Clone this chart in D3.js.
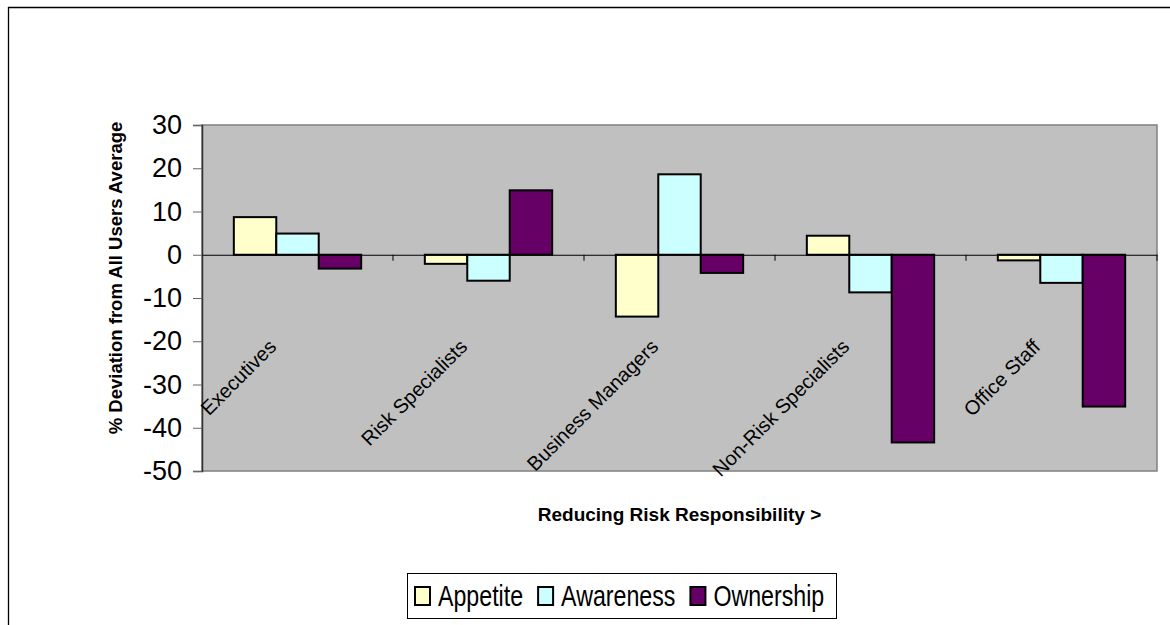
<!DOCTYPE html>
<html>
<head>
<meta charset="utf-8">
<script src="https://cdn.jsdelivr.net/npm/d3@7"></script>
<style>
  html, body { margin: 0; padding: 0; background: #fff; overflow: hidden; }
  svg { display: block; font-family: "Liberation Sans", Arial, sans-serif; }
</style>
</head>
<body>
<svg id="chart" width="1170" height="625"></svg>
<script>
// ---- data ----
const categories = ["Executives", "Risk Specialists", "Business Managers", "Non-Risk Specialists", "Office Staff"];
const seriesNames = ["Appetite", "Awareness", "Ownership"];
const appetite  = [8.7, -2.1, -14.3, 4.4, -1.3];
const awareness = [4.9, -6.0, 18.6, -8.7, -6.5];
const ownership = [-3.2, 14.9, -4.2, -43.4, -35.1];
const yTicks = [30, 20, 10, 0, -10, -20, -30, -40, -50];
const yTitle = "% Deviation from All Users Average";
const xTitle = "Reducing Risk Responsibility >";

const seriesValues = [appetite, awareness, ownership];
const colors = ["#FFFFCC", "#CCFFFF", "#660066"];

const svg = d3.select("#chart");
const plot = { left: 202, right: 1157, top: 125, bottom: 471 };

// white page background
svg.append("rect").attr("x", 0).attr("y", 0).attr("width", 1170).attr("height", 625).attr("fill", "#fff");

// outer chart-area border (top and left edges visible)
svg.append("path")
  .attr("d", "M8.5,625 V7.5 H1170")
  .attr("fill", "none").attr("stroke", "#000").attr("stroke-width", 1.3);

const x = d3.scaleBand().domain(categories).range([plot.left, plot.right]).paddingInner(0).paddingOuter(0);
const xs = d3.scaleBand().domain(seriesNames).range([0, x.bandwidth()]).paddingInner(0).paddingOuter(0.75);
const y = d3.scaleLinear().domain([-50, 30]).range([plot.bottom, plot.top]);

// plot background
svg.append("rect")
  .attr("x", plot.left).attr("y", plot.top)
  .attr("width", plot.right - plot.left).attr("height", plot.bottom - plot.top)
  .attr("fill", "#C0C0C0").attr("stroke", "#808080").attr("stroke-width", 1.5);

// y axis
const yAxis = d3.axisLeft(y).tickValues(yTicks).tickSize(9).tickPadding(11).tickFormat(d => String(d));
const gy = svg.append("g").attr("transform", `translate(${plot.left},0)`).call(yAxis);
gy.select(".domain").attr("stroke", "#333").attr("stroke-width", 1.5);
gy.selectAll(".tick line").attr("stroke", "#666").attr("stroke-width", 1);
gy.selectAll(".tick text").attr("font-size", 27).attr("fill", "#000")
  .attr("font-family", "'Liberation Sans', Arial, sans-serif");

// bars
const data = [];
categories.forEach((c, i) => seriesNames.forEach((s, j) => data.push({ c, s, j, v: seriesValues[j][i] })));
svg.append("g").selectAll("rect").data(data).enter().append("rect")
  .attr("x", d => x(d.c) + xs(d.s))
  .attr("width", xs.bandwidth())
  .attr("y", d => y(Math.max(0, d.v)))
  .attr("height", d => Math.abs(y(d.v) - y(0)))
  .attr("fill", d => colors[d.j])
  .attr("stroke", "#000").attr("stroke-width", 2);

// category axis at zero
const xAxis = d3.axisBottom(x).tickSizeInner(0).tickSizeOuter(0).tickFormat("");
const gx = svg.append("g").attr("transform", `translate(0,${y(0)})`).call(xAxis);
gx.select(".domain").attr("stroke", "#000").attr("stroke-width", 1);
const bounds = categories.map(c => x(c) + x.bandwidth());
gx.selectAll("line.bound").data(bounds).enter().append("line")
  .attr("class", "bound")
  .attr("x1", d => d).attr("x2", d => d).attr("y1", 0).attr("y2", 6)
  .attr("stroke", "#000").attr("stroke-width", 1);

// category labels (rotated, inside plot)
svg.append("g").selectAll("text").data(categories).enter().append("text")
  .attr("transform", d => `translate(${x(d) + x.bandwidth() / 2 - 20},348) rotate(-45)`)
  .attr("text-anchor", "end")
  .attr("font-size", 20)
  .attr("fill", "#000")
  .text(d => d);

// axis titles
svg.append("text")
  .attr("transform", `translate(122,278) rotate(-90)`)
  .attr("text-anchor", "middle")
  .attr("font-size", 18.5).attr("font-weight", "bold")
  .text(yTitle);
svg.append("text")
  .attr("x", (plot.left + plot.right) / 2).attr("y", 521)
  .attr("text-anchor", "middle")
  .attr("font-size", 19).attr("font-weight", "bold")
  .text(xTitle);

// legend (horizontally condensed as in the original)
const legend = svg.append("g").attr("transform", "translate(407,573)");
legend.append("rect")
  .attr("x", 0.5).attr("y", 0.5).attr("width", 429).attr("height", 45)
  .attr("fill", "#fff").attr("stroke", "#000").attr("stroke-width", 1);
const squeeze = 0.8;
let lx = 8;
seriesNames.forEach((s, j) => {
  legend.append("rect")
    .attr("x", lx).attr("y", 14).attr("width", 15).attr("height", 18)
    .attr("fill", colors[j]).attr("stroke", "#000").attr("stroke-width", 2);
  const t = legend.append("text")
    .attr("transform", `translate(${lx + 23},33) scale(${squeeze},1)`)
    .attr("font-size", 29).attr("fill", "#000")
    .text(s);
  lx += 23 + t.node().getComputedTextLength() * squeeze + 15;
});
</script>
</body>
</html>
